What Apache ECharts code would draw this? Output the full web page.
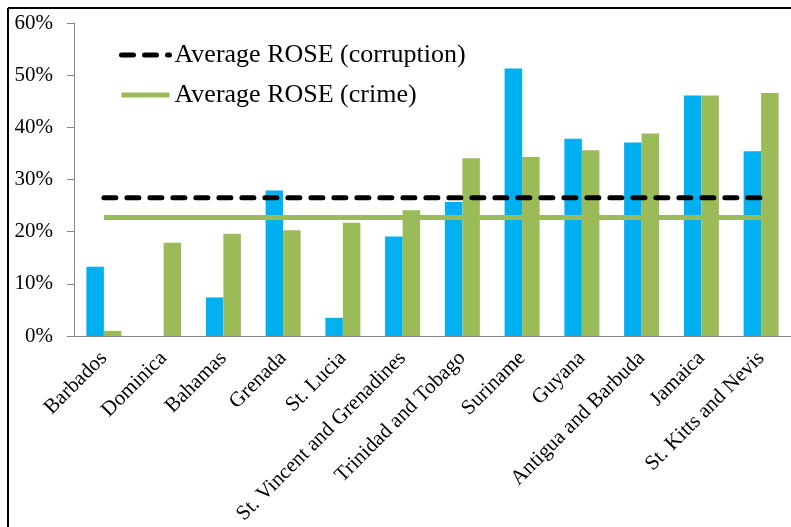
<!DOCTYPE html>
<html>
<head>
<meta charset="utf-8">
<script src="https://cdn.jsdelivr.net/npm/echarts@6/dist/echarts.min.js"></script>
<style>
  html, body { margin: 0; padding: 0; background: #fff; }
  #main { width: 791px; height: 527px; }
</style>
</head>
<body>
<div id="main"></div>
<script>
// countries
var categories = ["Barbados", "Dominica", "Bahamas", "Grenada", "St. Lucia",
  "St. Vincent and Grenadines", "Trinidad and Tobago", "Suriname", "Guyana",
  "Antigua and Barbuda", "Jamaica", "St. Kitts and Nevis"];
// ROSE values in %
var corruption = [13.3, 0, 7.4, 27.9, 3.5, 19.1, 25.7, 51.3, 37.8, 37.1, 46.1, 35.4];
var crime = [1.0, 17.9, 19.6, 20.3, 21.7, 24.1, 34.1, 34.3, 35.6, 38.8, 46.1, 46.6];
// averages
var avgCorruption = 26.5;
var avgCrime = 22.7;

var serif = "'Liberation Serif', 'Times New Roman', serif";
var myChart = echarts.init(document.getElementById("main"));

var option = {
  animation: false,
  textStyle: { fontFamily: serif },
  // frame (only left and top edges are inside the picture)
  graphic: [
    { type: "line", shape: { x1: 8, y1: 8, x2: 791, y2: 8 }, style: { stroke: "#000", lineWidth: 2 }, z: 100 },
    { type: "line", shape: { x1: 8, y1: 8, x2: 8, y2: 527 }, style: { stroke: "#000", lineWidth: 2 }, z: 100 }
  ],
  grid: { left: 74, top: 23, width: 720, bottom: 190 },
  legend: {
    orient: "vertical",
    left: 114,
    top: 37,
    itemWidth: 48,
    itemHeight: 14,
    itemGap: 14,
    data: ["Average ROSE (corruption)", "Average ROSE (crime)"],
    itemStyle: { color: "transparent", borderWidth: 0 },
    lineStyle: { width: 5 },
    textStyle: { fontFamily: serif, fontSize: 26, color: "#000" }
  },
  xAxis: {
    type: "category",
    data: categories,
    axisLine: { lineStyle: { color: "#868686", width: 1 } },
    axisTick: { length: 5, lineStyle: { color: "#868686" } },
    axisLabel: {
      interval: 0,
      rotate: 45,
      fontFamily: serif,
      fontSize: 21,
      color: "#000",
      margin: 19
    }
  },
  yAxis: {
    type: "value",
    min: 0,
    max: 60,
    interval: 10,
    splitLine: { show: false },
    axisLine: { show: true, lineStyle: { color: "#868686", width: 1 } },
    axisTick: { show: true, length: 7, lineStyle: { color: "#868686" } },
    axisLabel: {
      formatter: "{value}%",
      fontFamily: serif,
      fontSize: 21,
      color: "#000",
      margin: 21
    }
  },
  series: [
    {
      name: "corruption",
      type: "bar",
      data: corruption,
      barWidth: 17.5,
      barGap: "0%",
      itemStyle: { color: "#00B0F0" }
    },
    {
      name: "crime",
      type: "bar",
      data: crime,
      barWidth: 17.5,
      itemStyle: { color: "#9BBB59" }
    },
    {
      name: "Average ROSE (corruption)",
      type: "line",
      data: categories.map(function () { return avgCorruption; }),
      symbol: "none",
      z: 5,
      itemStyle: { color: "#000" },
      lineStyle: { color: "#000", width: 5, type: [12, 11], cap: "round" }
    },
    {
      name: "Average ROSE (crime)",
      type: "line",
      data: categories.map(function () { return avgCrime; }),
      symbol: "none",
      z: 4,
      itemStyle: { color: "#9BBB59" },
      lineStyle: { color: "#9BBB59", width: 5 }
    }
  ]
};

myChart.setOption(option);
</script>
</body>
</html>
